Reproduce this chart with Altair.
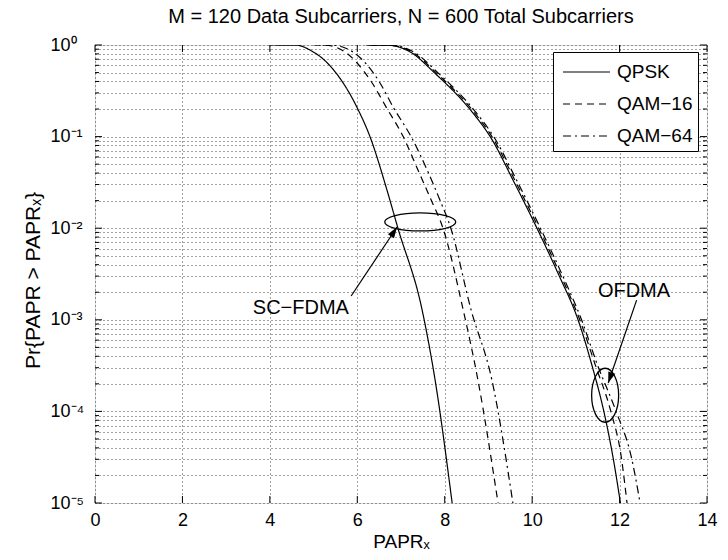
import altair as alt
import pandas as pd

FONT = "Liberation Sans"

title_text = "M = 120 Data Subcarriers, N = 600 Total Subcarriers"
modulations = ["QPSK", "QAM−16", "QAM−64"]
dashes = [[1, 0], [7, 5], [8, 4, 2, 4]]

# SC-FDMA curves
sc_qpsk_x = [4.0, 4.62, 4.92, 5.31, 5.99, 6.29, 6.68, 6.93, 7.48, 7.78, 8.17]
sc_qpsk_p = [1.0, 0.995, 0.88, 0.64, 0.21, 0.1, 0.026, 0.01, 0.0013, 0.00022, 0.00001]
sc_q16_x = [5.0, 5.26, 5.72, 5.99, 6.34, 6.66, 7.05, 7.39, 7.69, 7.96, 8.42, 8.76, 9.22]
sc_q16_p = [1.0, 0.995, 0.84, 0.64, 0.385, 0.21, 0.1, 0.043, 0.0203, 0.01, 0.0013, 0.00022, 0.00001]
sc_q64_x = [5.2, 5.44, 5.83, 6.18, 6.52, 6.82, 7.23, 7.60, 7.89, 8.14, 8.60, 9.08, 9.56]
sc_q64_p = [1.0, 0.995, 0.88, 0.64, 0.385, 0.21, 0.1, 0.043, 0.0203, 0.01, 0.0013, 0.00022, 0.00001]

# OFDMA curves
of_p = [1.0, 0.995, 0.84, 0.49, 0.18, 0.1, 0.0316, 0.01, 0.00316, 0.001, 0.000316, 0.0001, 0.0000316, 0.00001]
of_qpsk_x = [6.2, 6.70, 7.21, 7.78, 8.65, 9.04, 9.59, 10.11, 10.60, 11.05, 11.37, 11.64, 11.85, 12.02]
of_q16_x = [6.25, 6.74, 7.25, 7.82, 8.69, 9.08, 9.63, 10.15, 10.64, 11.09, 11.45, 11.80, 12.04, 12.17]
of_q64_x = [6.3, 6.78, 7.29, 7.86, 8.73, 9.12, 9.67, 10.19, 10.68, 11.13, 11.50, 11.92, 12.27, 12.47]

# annotations
annot_text = ["SC−FDMA", "OFDMA"]
annot_x = [4.71, 12.33]
annot_p = [1.35e-3, 2.06e-3]
ellipse_x = [7.44, 11.67]
ellipse_p = [0.0117, 1.5e-4]
arrow_group = ["sc", "sc", "of", "of"]
arrow_x = [5.86, 6.91, 12.39, 11.74]
arrow_p = [1.82e-3, 0.0103, 1.64e-3, 2.04e-4]
head_x = [6.91, 11.74]
head_p = [0.0103, 2.04e-4]
head_angle = [33.7, 199.1]

x_ticks = [0, 2, 4, 6, 8, 10, 12, 14]
y_major = [1, 0.1, 0.01, 0.001, 0.0001, 0.00001]
y_labels = ["10⁰", "10⁻¹", "10⁻²", "10⁻³", "10⁻⁴", "10⁻⁵"]
y_minor = [m * 10.0 ** k for k in range(-5, 0) for m in range(2, 10)]

rows = []
for grp, mod, xs, ps in [
    ("SC", modulations[0], sc_qpsk_x, sc_qpsk_p),
    ("SC", modulations[1], sc_q16_x, sc_q16_p),
    ("SC", modulations[2], sc_q64_x, sc_q64_p),
    ("OF", modulations[0], of_qpsk_x, of_p),
    ("OF", modulations[1], of_q16_x, of_p),
    ("OF", modulations[2], of_q64_x, of_p),
]:
    for x, p in zip(xs, ps):
        rows.append({"grp": grp + mod, "mod": mod, "x": x, "p": p})
curves = pd.DataFrame(rows)

label_expr = " : ".join(
    f"abs(datum.value - {v}) < {v * 1e-3} ? '{lab}'" for v, lab in zip(y_major, y_labels)
) + " : ''"

GRID = "#444"
xscale = alt.Scale(domain=[0, 14], nice=False, zero=False)
yscale = alt.Scale(type="log", domain=[1e-5, 1], nice=False)
xaxis = alt.Axis(values=x_ticks, grid=True, gridDash=[1, 3], gridColor=GRID,
                 ticks=False, domain=False, labelFontSize=18, labelFont=FONT,
                 labelPadding=8, labelFlush=False, labelColor="black",
                 title="PAPRₓ", titleFontSize=19, titleFont=FONT,
                 titleFontWeight="normal", titleColor="black", titleY=29)
yaxis = alt.Axis(values=y_major + y_minor, grid=True, gridDash=[1, 3], gridColor=GRID,
                 ticks=False, domain=False, labelFontSize=18, labelFont=FONT,
                 labelPadding=45, labelAlign="left", labelExpr=label_expr,
                 labelOverlap=False, labelColor="black",
                 title="Pr{PAPR > PAPRₓ}", titleFontSize=21,
                 titleFont=FONT, titleFontWeight="normal", titleColor="black",
                 titleX=-52, titleY=235)


def X(f):
    return alt.X(f"{f}:Q", scale=xscale, axis=xaxis)


def Y(f):
    return alt.Y(f"{f}:Q", scale=yscale, axis=yaxis)


legend = alt.Legend(title=None, orient="none", legendX=458, legendY=7,
                    fillColor="white", strokeColor="black", padding=4.5,
                    symbolType="M-0.671,0 L2.483,0", symbolSize=888,
                    symbolStrokeWidth=1.2, symbolStrokeColor="black",
                    symbolFillColor="transparent",
                    labelFontSize=19, labelFont=FONT, labelColor="black",
                    rowPadding=6, labelOffset=28.5)

lines = alt.Chart(curves).mark_line(color="black", strokeWidth=1.2, clip=True,
                                    interpolate="monotone").encode(
    x=X("x"), y=Y("p"),
    strokeDash=alt.StrokeDash("mod:N", scale=alt.Scale(domain=modulations, range=dashes),
                              legend=legend),
    detail="grp:N",
)


def ellipse_path(rx, ry):
    k = 0.5523
    return (f"M{-rx},0 C{-rx},{-ry * k} {-rx * k},{-ry} 0,{-ry} "
            f"C{rx * k},{-ry} {rx},{-ry * k} {rx},0 "
            f"C{rx},{ry * k} {rx * k},{ry} 0,{ry} "
            f"C{-rx * k},{ry} {-rx},{ry * k} {-rx},0 Z")


ell_df = pd.DataFrame({"x": ellipse_x, "p": ellipse_p})
ell_sc = alt.Chart(ell_df.iloc[[0]]).mark_point(
    shape=ellipse_path(1, 0.2535), size=5041, filled=False, stroke="black",
    strokeWidth=1.3, opacity=1).encode(x=X("x"), y=Y("p"))
ell_of = alt.Chart(ell_df.iloc[[1]]).mark_point(
    shape=ellipse_path(0.5, 1), size=2916, filled=False, stroke="black",
    strokeWidth=1.3, opacity=1).encode(x=X("x"), y=Y("p"))

arr_df = pd.DataFrame({"g": arrow_group, "x": arrow_x, "p": arrow_p})
arrows = alt.Chart(arr_df).mark_line(color="black", strokeWidth=1.2).encode(
    x=X("x"), y=Y("p"), detail="g:N")

head_df = pd.DataFrame({"x": head_x, "p": head_p, "a": head_angle})
heads = alt.Chart(head_df).mark_point(
    shape="M0,0 L-0.4,1.2 L0.4,1.2 Z", size=336, filled=True, color="black",
    opacity=1).encode(x=X("x"), y=Y("p"), angle=alt.Angle("a:Q", scale=None))

txt_df = pd.DataFrame({"t": annot_text, "x": annot_x, "p": annot_p})
texts = alt.Chart(txt_df).mark_text(font=FONT, fontSize=20, color="black",
                                    align="center", baseline="middle").encode(
    x=X("x"), y=Y("p"), text="t:N")

xt_df = pd.DataFrame({"x": x_ticks})
tick_b = alt.Chart(xt_df).mark_rule(color="black").encode(
    x=X("x"), y=alt.value(458), y2=alt.value(451))
tick_t = alt.Chart(xt_df).mark_rule(color="black").encode(
    x=X("x"), y=alt.value(0), y2=alt.value(7))
ym_df = pd.DataFrame({"p": y_major})
yn_df = pd.DataFrame({"p": y_minor})
tick_l = alt.Chart(ym_df).mark_rule(color="black").encode(
    y=Y("p"), x=alt.value(0), x2=alt.value(7))
tick_r = alt.Chart(ym_df).mark_rule(color="black").encode(
    y=Y("p"), x=alt.value(612), x2=alt.value(605))
tick_ln = alt.Chart(yn_df).mark_rule(color="black").encode(
    y=Y("p"), x=alt.value(0), x2=alt.value(4))
tick_rn = alt.Chart(yn_df).mark_rule(color="black").encode(
    y=Y("p"), x=alt.value(612), x2=alt.value(608))

chart = alt.layer(
    lines, ell_sc, ell_of, arrows, heads, texts,
    tick_b, tick_t, tick_l, tick_r, tick_ln, tick_rn,
).properties(
    width=612, height=458,
    title=alt.TitleParams(title_text, fontSize=20, font=FONT, fontWeight="normal",
                          color="black", offset=9, anchor="middle"),
    autosize=alt.AutoSizeParams(type="none"),
    padding={"left": 95, "top": 45, "right": 21, "bottom": 57},
).configure_view(stroke="black", strokeWidth=1).configure(background="white")

chart.save("out.html", embed_options={"renderer": "svg", "actions": False})
